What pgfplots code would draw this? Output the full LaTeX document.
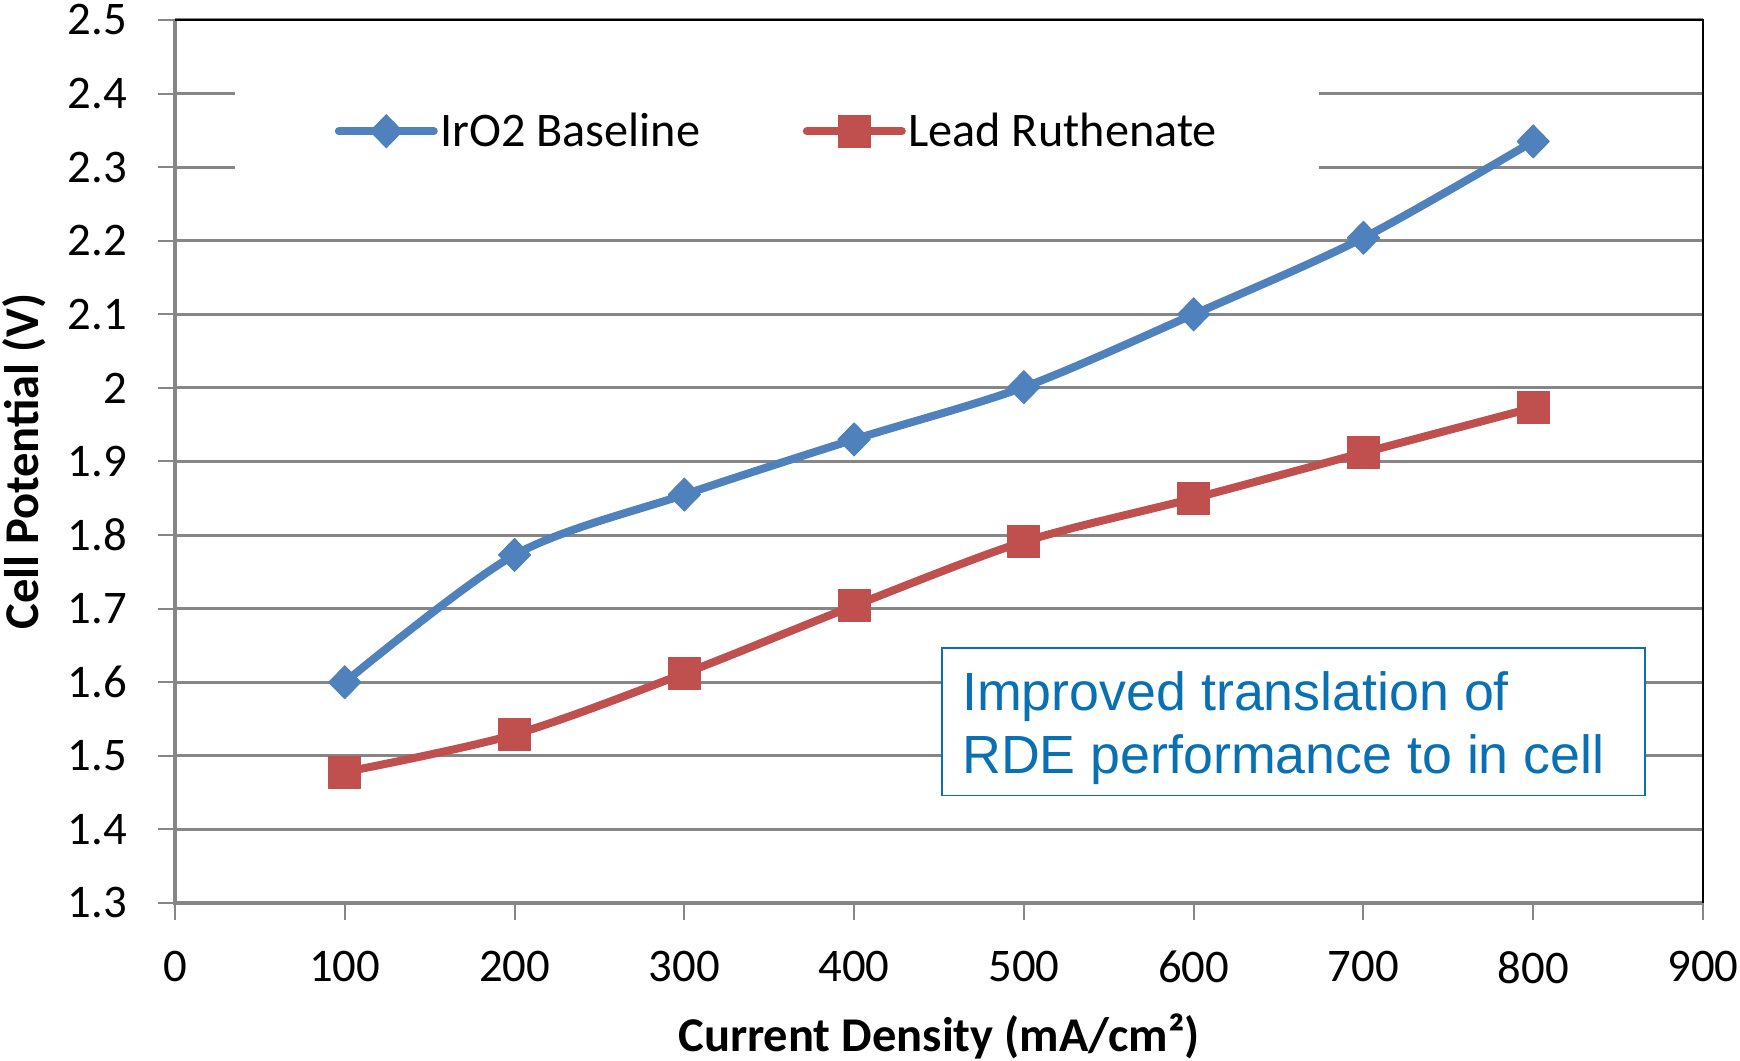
\documentclass[border=0pt]{standalone}
\usepackage{pgfplots}
\pgfplotsset{compat=1.18}
\usepackage{fontspec}
\setmainfont{Carlito}
\newfontfamily\arialfont{Liberation Sans}
\definecolor{irblue}{HTML}{4F81BD}
\definecolor{pbred}{HTML}{C0504D}
\definecolor{gridgray}{HTML}{868686}
\definecolor{notecol}{HTML}{0A70B4}

\begin{document}
\begin{tikzpicture}
\useasboundingbox (-70pt,-63.2pt) rectangle (626pt,361.2pt);
\begin{axis}[
  at={(0,0)}, anchor=south west,
  scale only axis,
  width=611.2pt, height=353.2pt,
  xmin=0, xmax=900, ymin=1.3, ymax=2.5,
  xtick={0,100,...,900},
  ytick={1.3,1.4,1.5,1.6,1.7,1.8,1.9,2,2.1,2.2,2.3,2.4,2.5},
  yticklabels={1.3,1.4,1.5,1.6,1.7,1.8,1.9,2,2.1,2.2,2.3,2.4,2.5},
  axis line style={draw=none},
  tick align=outside,
  major tick length=6.7pt,
  tick style={gridgray, line width=0.8pt},
  xtick pos=bottom, ytick pos=left,
  ymajorgrids,
  grid style={gridgray, line width=1.2pt},
  /pgf/number format/assume math mode=true,
  ticklabel style={font=\fontsize{18.7}{22}\selectfont},
  xticklabel style={yshift=-9pt},
  yticklabel style={xshift=-9pt},
  xlabel={\textbf{Current Density (mA/cm²)}},
  ylabel={\textbf{Cell Potential (V)}},
  label style={font=\fontsize{19.4}{22}\selectfont},
  xlabel style={at={(rel axis cs:0.5,0)}, anchor=center, yshift=-53.5pt},
  ylabel style={at={(rel axis cs:0,0.5)}, anchor=center, yshift=60.4pt},
  legend columns=2,
  legend style={at={(0.394,0.874)}, anchor=center, draw=none, fill=white,
    inner xsep=40pt, inner ysep=18pt,
    font=\fontsize{19.3}{22}\selectfont,
    nodes={inner xsep=1pt},
    /tikz/every even column/.append style={column sep=40pt}},
  legend image code/.code={
    \draw[#1, line width=3.2pt, mark repeat=2, mark phase=2] plot coordinates {(0pt,0pt) (19pt,0pt) (38pt,0pt)};
  },
  clip=false,
]
% axis frame: grey left/bottom, black top/right
\draw[gridgray, line width=1.4pt] (rel axis cs:0,1) -- (rel axis cs:0,0) -- (rel axis cs:1,0);
\draw[black, line width=0.8pt] (rel axis cs:0,1) -- (rel axis cs:1,1) -- (rel axis cs:1,0);

\addplot[irblue, line width=3.2pt, smooth, tension=0.5, line join=round, line cap=round,
  mark=diamond*, mark size=6.6pt, mark options={xscale=1.3, fill=irblue, draw=irblue, line width=0.4pt}]
  coordinates {(100,1.600) (200,1.773) (300,1.855) (400,1.930) (500,2.001) (600,2.100) (700,2.204) (800,2.335)};
\addlegendentry{IrO2 Baseline}

\addplot[pbred, line width=3.2pt, smooth, tension=0.5, line join=round, line cap=round,
  mark=square*, mark size=6.4pt, mark options={fill=pbred, draw=pbred, line width=0.4pt}]
  coordinates {(100,1.478) (200,1.529) (300,1.612) (400,1.704) (500,1.791) (600,1.850) (700,1.912) (800,1.973)};
\addlegendentry{Lead Ruthenate}

% annotation box
\draw[notecol, fill=white, line width=0.7pt] (axis cs:451.6,1.446) rectangle (axis cs:866,1.647);
\node[anchor=west, inner sep=0pt, align=left, text=notecol,
  font=\arialfont\fontsize{21.5}{25.3}\selectfont]
  at (axis cs:463.4,1.5375) {Improved translation of\\RDE performance to in cell};
\end{axis}
\end{tikzpicture}
\end{document}
